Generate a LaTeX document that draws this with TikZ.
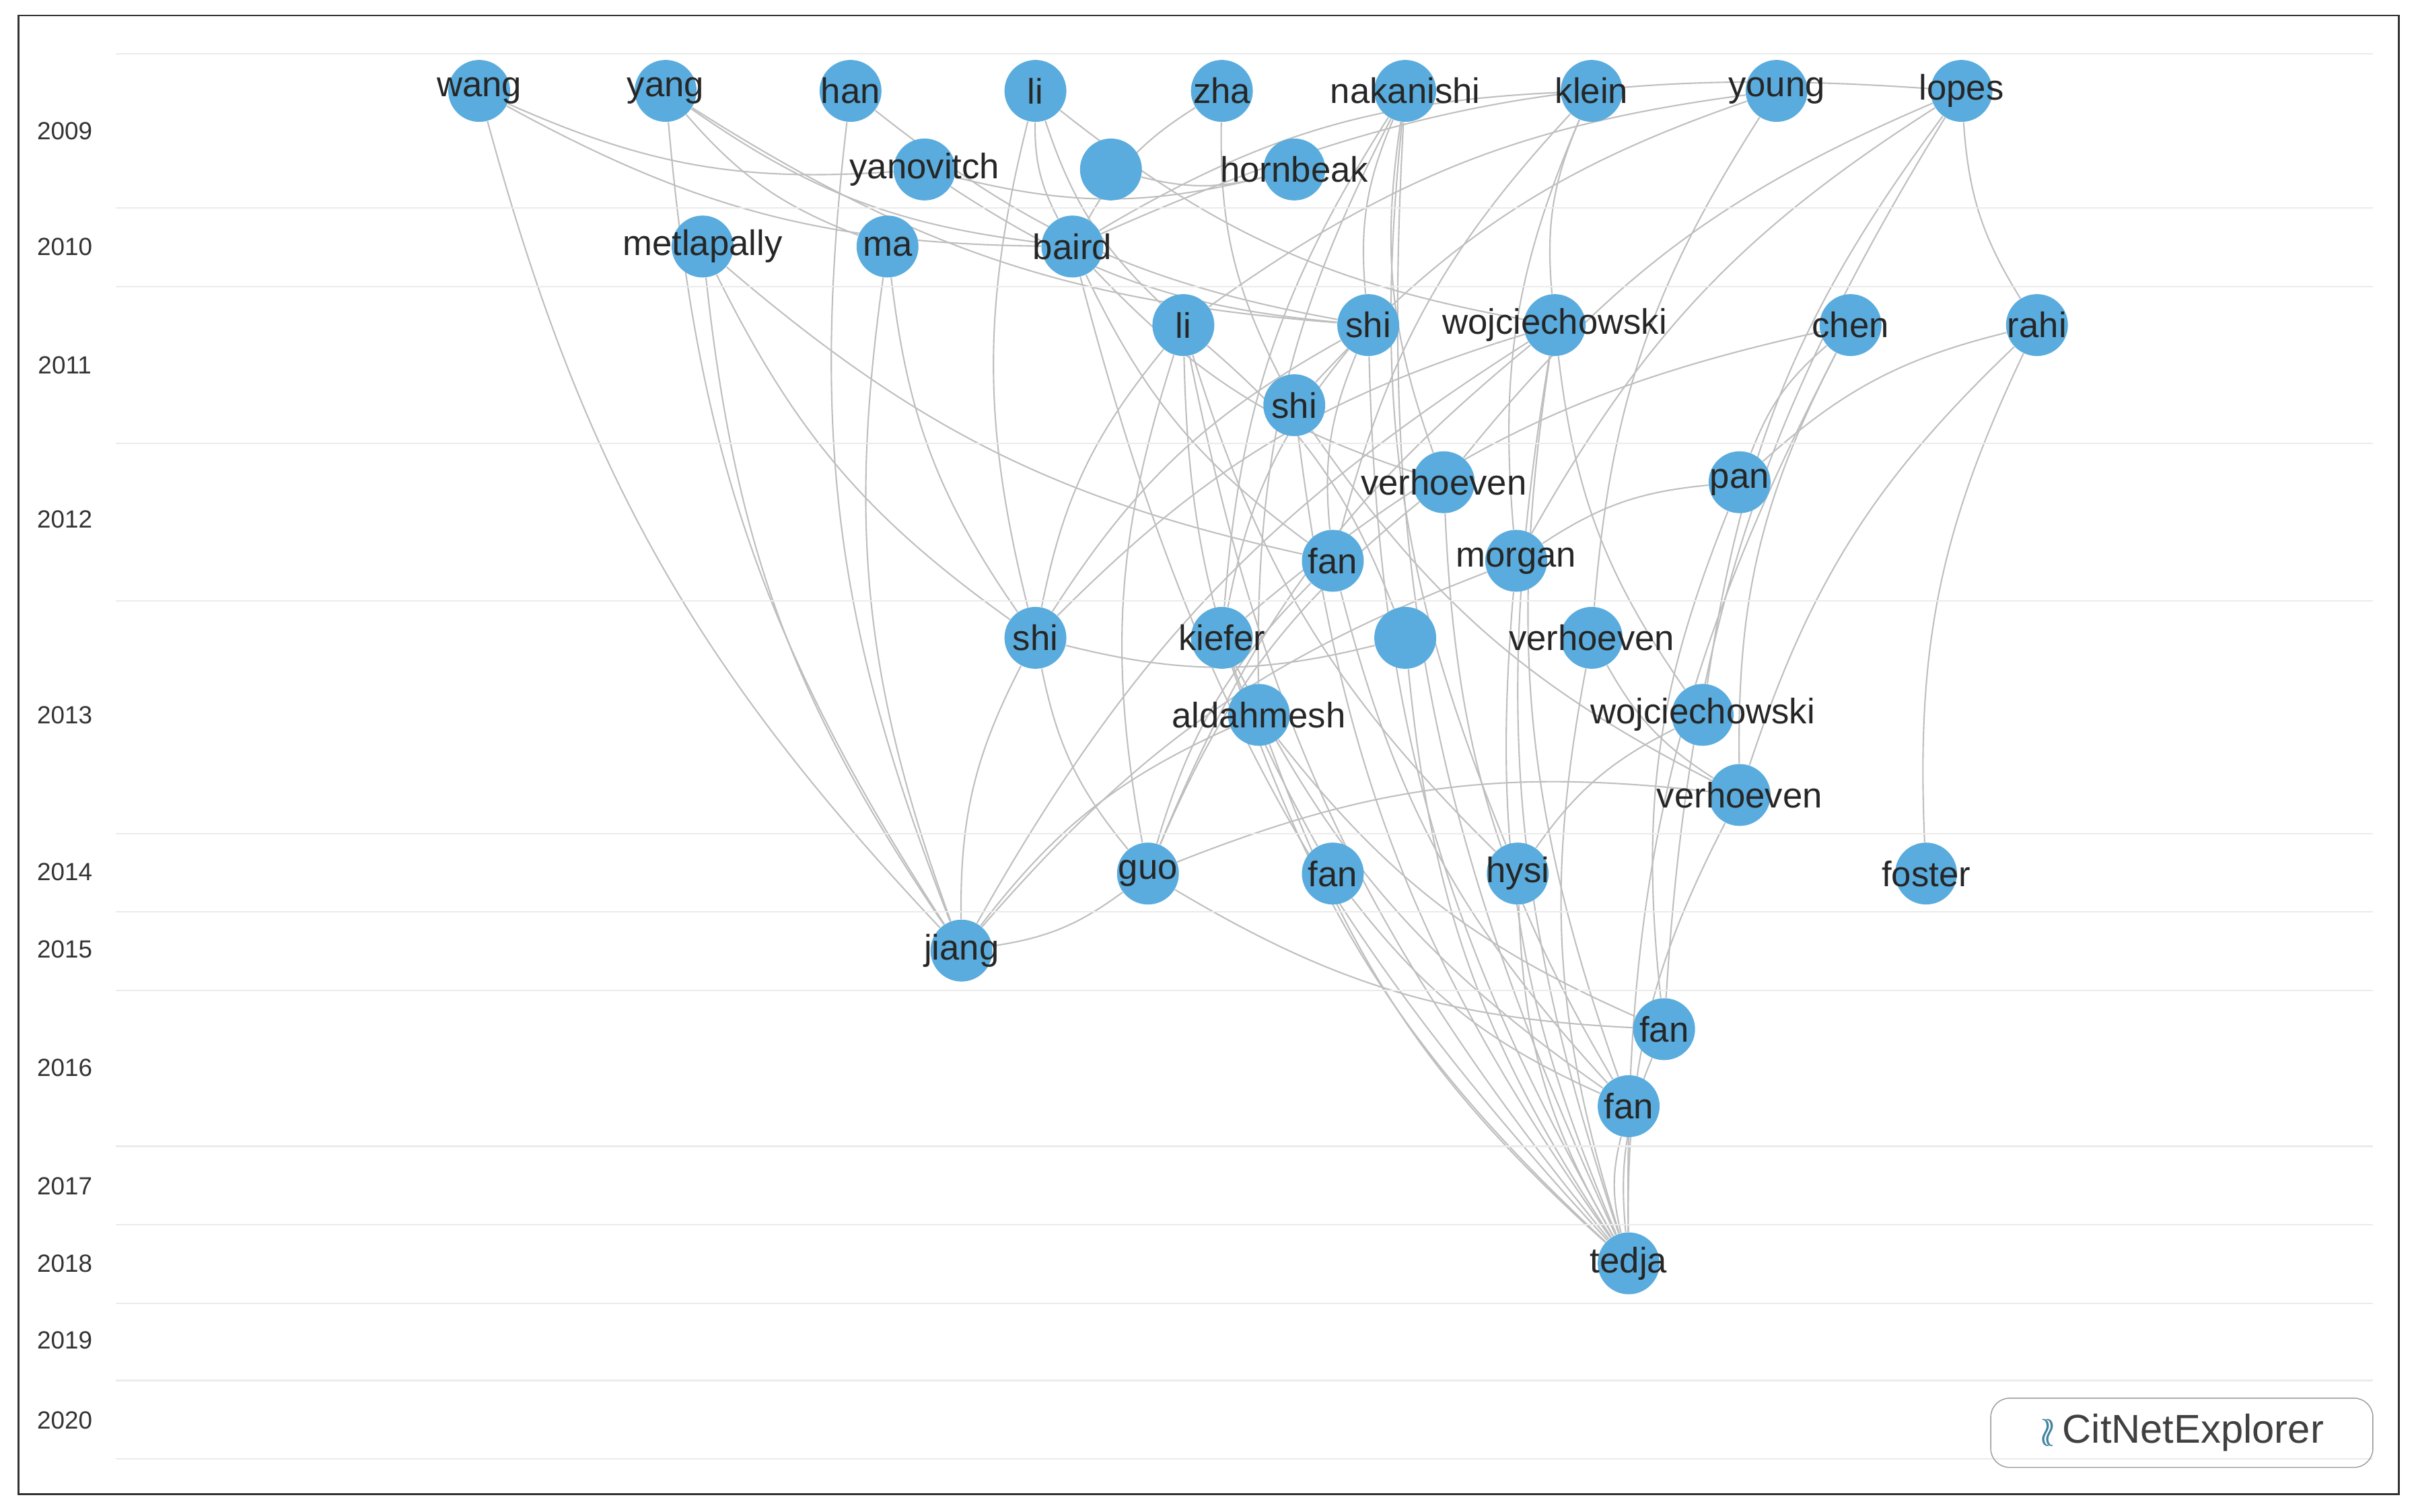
\documentclass[tikz,border=0pt]{standalone}
\usepackage{fontspec}
\setmainfont{Liberation Sans}
\usetikzlibrary{backgrounds}
\definecolor{nodeblue}{RGB}{89,172,221}
\newcommand{\namefont}{\fontsize{15}{18}\selectfont}
\newcommand{\yearfont}{\fontsize{10.5}{12}\selectfont}
\newcommand{\logofont}{\fontsize{17}{20}\selectfont}
\tikzstyle{author}=[circle, fill=nodeblue, minimum size=0.92cm, inner sep=0pt]
\tikzstyle{authorname}=[font=\namefont, text=black!85]
\tikzstyle{citeedge}=[draw=black!25, line width=0.6pt]
\tikzstyle{yearlabel}=[font=\yearfont, text=black!80]
\tikzstyle{gridline}=[draw=black!8, line width=0.6pt]

\begin{document}
\begin{tikzpicture}[x=0.0229cm, y=-0.0229cm]
  \useasboundingbox (0,0) rectangle (1568,981);
  \draw [black!80, line width=0.8pt] (12,10) rectangle (1557,970);

  % years and grid
  \foreach \y in {35,135,186,288,390,541,592,643,744,795,846,896,947}
    \draw [style=gridline] (75,\y) -- (1540,\y);
  \foreach \y/\yr in {85/2009,160/2010,237/2011,337/2012,464/2013,566/2014,
                      616/2015,693/2016,770/2017,820/2018,870/2019,922/2020}
    \node [style=yearlabel] (y\yr) at (42,\y) {\yr};

  % publications
  \foreach \x/\y/\id/\lbl in {
      311/59/wang/wang, 432/59/yang/yang, 552/59/han/han, 672/59/lia/li,
      793/59/zha/zha, 912/59/nakanishi/nakanishi, 1033/59/klein/klein,
      1153/59/young/young, 1273/59/lopes/lopes,
      600/110/yanovitch/yanovitch, 721/110/blanka/, 840/110/hornbeak/hornbeak,
      456/160/metlapally/metlapally, 576/160/ma/ma, 696/160/baird/baird,
      768/211/lib/li, 888/211/shia/shi, 1009/211/wojca/wojciechowski,
      1201/211/chen/chen, 1322/211/rahi/rahi,
      840/263/shib/shi,
      937/313/verha/verhoeven, 1129/313/pan/pan,
      865/364/fana/fan, 984/364/morgan/morgan,
      672/414/shic/shi, 793/414/kiefer/kiefer, 912/414/blankb/,
      1033/414/verhb/verhoeven,
      817/464/aldahmesh/aldahmesh, 1105/464/wojcb/wojciechowski,
      1129/516/verhc/verhoeven,
      745/567/guo/guo, 865/567/fanb/fan, 985/567/hysi/hysi, 1250/567/foster/foster,
      624/617/jiang/jiang,
      1080/668/fanc/fan, 1057/718/fand/fan, 1057/820/tedja/tedja}
  {
    \node [style=author] (\id) at (\x,\y) {};
    \node [style=authorname] at (\x,\y) {\lbl};
  }

  % citations
  \begin{scope}[on background layer]
  \foreach \a/\b in {
      wang/jiang, wang/baird, wang/yanovitch, yang/jiang, yang/baird, yang/ma,
      yang/shia, han/jiang, han/shia, lia/shic, lia/baird, lia/lib, lia/wojca,
      zha/baird, zha/shib, nakanishi/tedja, nakanishi/verha, nakanishi/shia,
      nakanishi/kiefer, nakanishi/aldahmesh, nakanishi/hysi, klein/baird,
      klein/wojca, klein/morgan, klein/fana, young/lib, young/shib,
      young/verhb, lopes/baird, lopes/rahi, lopes/wojcb, lopes/morgan,
      lopes/verha, lopes/fanc, metlapally/jiang, metlapally/shic,
      metlapally/fana, ma/jiang, ma/shic, baird/verha, baird/fana, baird/tedja,
      lib/shic, lib/guo, lib/tedja, lib/fanb, lib/hysi, shia/shic, shia/kiefer,
      shia/fana, shia/tedja, wojca/shic, wojca/guo, wojca/jiang, wojca/fand,
      wojca/wojcb, wojca/tedja, chen/pan, chen/tedja, chen/verhc, chen/kiefer,
      rahi/pan, rahi/foster, rahi/verhc, shib/tedja, shib/verhc, verha/guo,
      verha/fand, pan/morgan, pan/fanc, fana/fand, fana/guo, morgan/tedja,
      morgan/jiang, shic/jiang, shic/guo, shic/blankb, kiefer/tedja,
      kiefer/fand, aldahmesh/tedja, aldahmesh/fanc, aldahmesh/jiang,
      verhb/tedja, verhb/verhc, wojcb/hysi, verhc/tedja, verhc/guo, guo/fanc,
      fanb/fand, hysi/tedja, fanc/tedja, fand/tedja, jiang/guo, yanovitch/shia,
      blanka/hornbeak, yanovitch/hornbeak, blankb/tedja, blankb/lib}
    \draw [style=citeedge] (\a) to [bend right=14] (\b);
  \end{scope}

  % logo
  \node [draw=black!40, rounded corners=8pt, minimum width=5.68cm,
         minimum height=1.03cm, font=\logofont,
         text=black!75] (logo) at (1416,930)
        {\textcolor{cyan!60!black}{$\wr\!\wr$}\,CitNetExplorer};
\end{tikzpicture}
\end{document}
